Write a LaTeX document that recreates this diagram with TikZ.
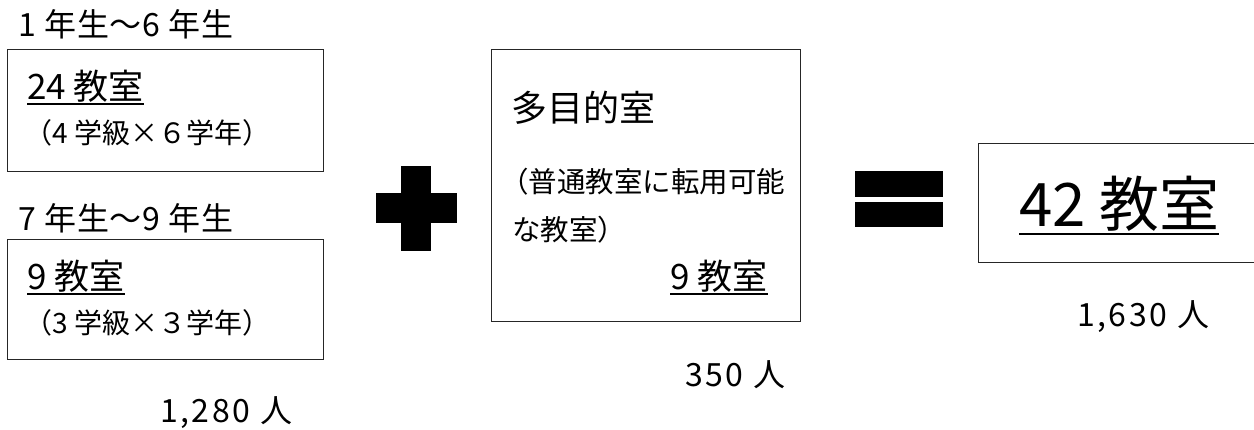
\documentclass[tikz,border=0pt]{standalone}
\usepackage{fontspec}
\setmainfont{Noto Sans CJK JP}
\begin{document}
\begin{tikzpicture}[x=1pt,y=-1pt,
  box/.style={draw=black!85,line width=1pt},
  sign/.style={fill=black},
  uline/.style={line width=1.6pt},
  txt/.style={inner sep=0pt,anchor=west},
  big/.style={txt,font=\fontsize{35}{38}\selectfont},
  mid/.style={txt,font=\fontsize{32}{35}\selectfont\addfontfeature{LetterSpace=3}},
  body/.style={txt,font=\fontsize{28.5}{32}\selectfont},
  num/.style={txt,font=\fontsize{32}{35}\selectfont\addfontfeature{LetterSpace=8}},
  sml/.style={txt,font=\fontsize{28}{31}\selectfont}]
\useasboundingbox (0,0) rectangle (1254,430);
\clip (0,0) rectangle (1254,430);
% boxes
\draw[box] (7,50) rectangle (323,172);
\draw[box] (7,240) rectangle (323,360);
\draw[box] (491,50) rectangle (800,322);
\draw[box] (978,144) rectangle (1270,263);
% left top
\node[mid] (t1) at (18,24) {1 年生〜6 年生};
\node[big] (n1) at (27,86) {24 教室};
\draw[uline] ([yshift=-5pt]n1.base west) -- ([yshift=-5pt]n1.base east);
\node[sml] (d1) at (24,133) {（4 学級×６学年）};
% left bottom
\node[mid] (t2) at (18,218) {7 年生〜9 年生};
\node[big] (n2) at (27,276) {9 教室};
\draw[uline] ([yshift=-5pt]n2.base west) -- ([yshift=-5pt]n2.base east);
\node[sml] (d2) at (24,323) {（3 学級×３学年）};
\node[num] (p1) at (160,413) {1,280 人};
% plus
\fill[sign] (376,193) rectangle (457,223);
\fill[sign] (401,166) rectangle (431,251);
% middle box
\node[txt,font=\fontsize{36}{38}\selectfont] (m1) at (511,108) {多目的室};
\node[body] (m2) at (500,182) {（普通教室に転用可能};
\node[body] (m3) at (512,230) {な教室）};
\node[big] (m4) at (670,276) {9 教室};
\draw[uline] ([yshift=-5pt]m4.base west) -- ([yshift=-5pt]m4.base east);
\node[num] (p2) at (685,375) {350 人};
% equals
\fill[sign] (855,171) rectangle (943,197);
\fill[sign] (855,202) rectangle (943,227);
% result
\node[txt,font=\fontsize{60}{64}\selectfont] (r1) at (1019,204) {42 教室};
\draw[uline] ([yshift=-7pt]r1.base west) -- ([yshift=-7pt]r1.base east);
\node[num] (p3) at (1077,317) {1,630 人};
\end{tikzpicture}
\end{document}
